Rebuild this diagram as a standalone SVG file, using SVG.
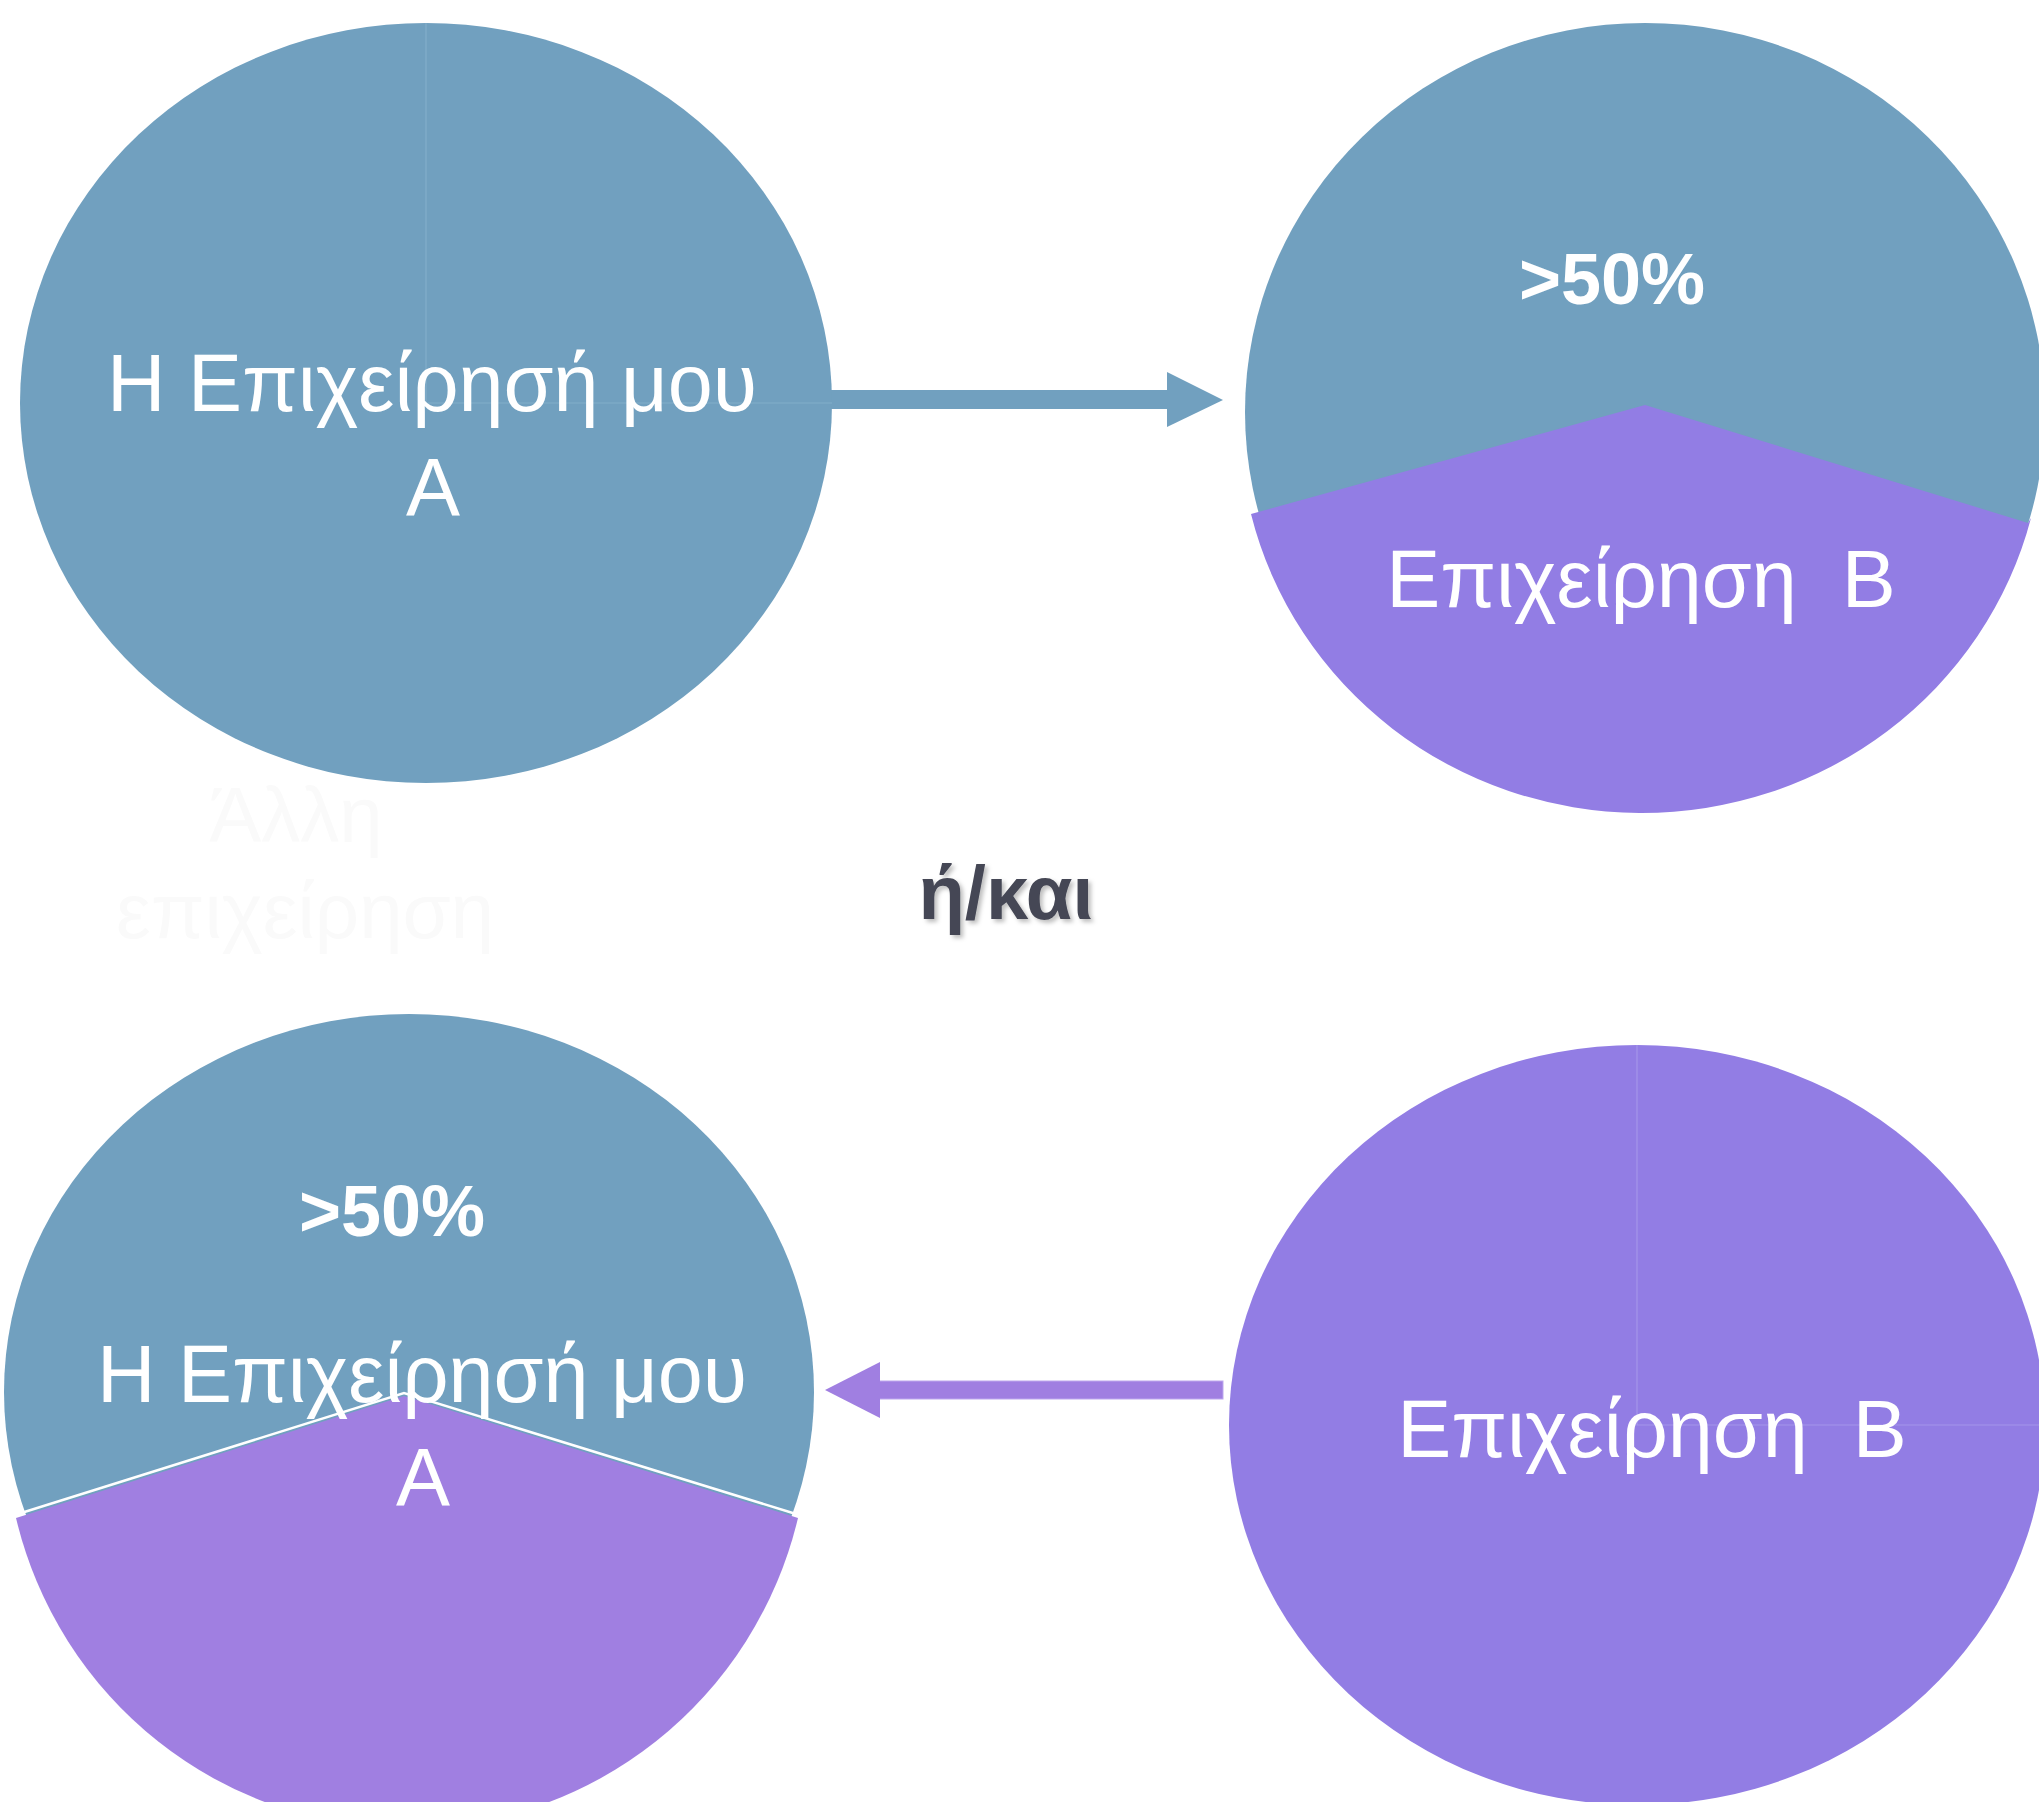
<svg xmlns="http://www.w3.org/2000/svg" width="2039" height="1802" viewBox="0 0 2039 1802">
<style>
.blue{fill:#71A0BF}
.purple{fill:#927DE4}
.purple2{fill:#A07FE1}
.lbl{font-family:"Liberation Sans",Arial,sans-serif;fill:#FFFFFF;text-anchor:middle}
.big{font-size:81px}
.pct{font-size:72px;font-weight:bold}
.ghost{font-family:"Liberation Sans",Arial,sans-serif;font-size:78px;fill:#FAFAFA;text-anchor:middle}
.mid{font-family:"Liberation Sans",Arial,sans-serif;font-size:76px;font-weight:bold;fill:#454754;text-anchor:middle}
.seamB{stroke:#82AECA;stroke-width:1.2;fill:none}
.seamP{stroke:#A495EA;stroke-width:1.2;fill:none}
</style>
<defs>
<filter id="shadow" x="-10%" y="-20%" width="130%" height="150%">
<feDropShadow dx="3" dy="3" stdDeviation="2" flood-color="#000000" flood-opacity="0.25"/>
</filter>
</defs>
<rect width="2039" height="1802" fill="#FFFFFF"/>

<g id="connectors">
<g id="arrow-top">
<rect x="826" y="390" width="342" height="19" class="blue"/>
<polygon points="1167,372 1223,400 1167,427" class="blue"/>
</g>
<g id="arrow-bottom">
<rect x="879" y="1381" width="344" height="18" class="purple2" stroke="#BDA8EE" stroke-width="1"/>
<polygon points="880,1362 825,1390 880,1418" class="purple2"/>
</g>
</g>

<g id="node-top-left">
<ellipse cx="426" cy="403" rx="406" ry="380" class="blue"/>
<path d="M426,23 V403 H832" class="seamB"/>
<text class="lbl big" x="432" y="411">Η Επιχείρησή μου</text>
<text class="lbl big" x="433" y="515">Α</text>
</g>

<g id="ghost-label">
<text class="ghost" x="296" y="842">Άλλη</text>
<text class="ghost" x="305" y="938">επιχείρηση</text>
</g>

<g id="node-top-right">
<ellipse cx="1645" cy="412" rx="400" ry="389" class="blue"/>
<path d="M1645,405 L1251,514 A402,392 0 0 0 2031,518 L2028,523 Z" class="purple"/>
<text class="lbl pct" x="1612" y="304">&gt;50%</text>
<text class="lbl big" x="1641" y="607">Επιχείρηση&#160; Β</text>
</g>

<g id="label-or-and">
<text class="mid" x="1006" y="919" filter="url(#shadow)">ή/και</text>
</g>

<g id="node-bottom-left">
<ellipse cx="409" cy="1392" rx="405" ry="378" class="blue"/>
<path d="M404,1396 L16,1518 A402,404 0 0 0 798,1518 Z" class="purple2"/>
<path d="M18,1514 L404,1393 L796,1514" stroke="#FFFFFF" stroke-width="2.5" fill="none"/>
<text class="lbl pct" x="392" y="1236">&gt;50%</text>
<text class="lbl big" x="422" y="1402">Η Επιχείρησή μου</text>
<text class="lbl big" x="423" y="1505">Α</text>
</g>

<g id="node-bottom-right">
<ellipse cx="1637" cy="1425" rx="408" ry="380" class="purple"/>
<path d="M1637,1045 V1425 H2039" class="seamP"/>
<text class="lbl big" x="1652" y="1457">Επιχείρηση&#160; Β</text>
</g>
</svg>
